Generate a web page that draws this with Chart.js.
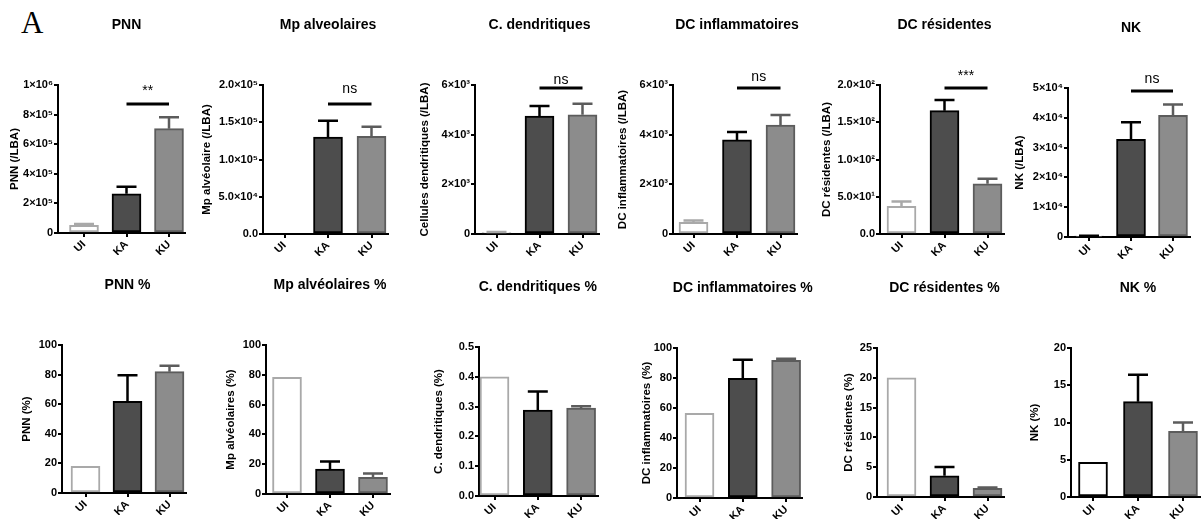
<!DOCTYPE html>
<html>
<head>
<meta charset="utf-8">
<script src="https://cdn.jsdelivr.net/npm/chart.js@4.4.0/dist/chart.umd.min.js"></script>
<style>
  html, body { margin: 0; padding: 0; background: #fff; }
  #fig { position: relative; width: 1203px; height: 519px; overflow: hidden; background: #fff; }
  #fig canvas { position: absolute; }
  #letter { position: absolute; left: 21px; top: 5px; font: 31px "Liberation Serif", "DejaVu Serif", serif; color: #000; }
</style>
</head>
<body>
<div id="fig"><div id="letter">A</div></div>
<script>
const groups = ['UI', 'KA', 'KU'];

// top row: cells per BAL (mean, sem)
const pnnAbs = [52000, 265000, 705000];
const pnnAbsSem = [9000, 47000, 77000];
const pnnAbsTicks = ['0', '2×10⁵', '4×10⁵', '6×10⁵', '8×10⁵', '1×10⁶'];

const mpAbs = [0, 130000, 131000];
const mpAbsSem = [0, 22000, 13000];
const mpAbsTicks = ['0.0', '5.0×10⁴', '1.0×10⁵', '1.5×10⁵', '2.0×10⁵'];

const dcAbs = [60, 4750, 4800];
const dcAbsSem = [20, 400, 440];
const dcAbsTicks = ['0', '2×10³', '4×10³', '6×10³'];

const dcInfAbs = [470, 3790, 4390];
const dcInfAbsSem = [70, 320, 400];
const dcInfAbsTicks = ['0', '2×10³', '4×10³', '6×10³'];

const dcResAbs = [37, 165.5, 67.5];
const dcResAbsSem = [6.5, 14.5, 6.5];
const dcResAbsTicks = ['0.0', '5.0×10¹', '1.0×10²', '1.5×10²', '2.0×10²'];

const nkAbs = [300, 32800, 40800];
const nkAbsSem = [100, 5700, 3700];
const nkAbsTicks = ['0', '1×10⁴', '2×10⁴', '3×10⁴', '4×10⁴', '5×10⁴'];

// bottom row: percentages
const pnnPct = [18, 62, 82];
const pnnPctSem = [0, 17.5, 4];
const pnnPctTicks = ['0', '20', '40', '60', '80', '100'];

const mpPct = [78.3, 16.8, 11.2];
const mpPctSem = [0, 5, 2.6];
const mpPctTicks = ['0', '20', '40', '60', '80', '100'];

const dcPct = [0.40, 0.288, 0.295];
const dcPctSem = [0, 0.063, 0.006];
const dcPctTicks = ['0.0', '0.1', '0.2', '0.3', '0.4', '0.5'];

const dcInfPct = [56.5, 79.8, 91.7];
const dcInfPctSem = [0, 12.3, 1.2];
const dcInfPctTicks = ['0', '20', '40', '60', '80', '100'];

const dcResPct = [20, 3.55, 1.45];
const dcResPctSem = [0, 1.5, 0.15];
const dcResPctTicks = ['0', '5', '10', '15', '20', '25'];

const nkPct = [4.65, 12.8, 8.8];
const nkPctSem = [0, 3.6, 1.2];
const nkPctTicks = ['0', '5', '10', '15', '20'];

const FONT = '"Liberation Sans", Arial, sans-serif';
Chart.defaults.font.family = FONT;
Chart.defaults.color = '#000';

const fills = ['#ffffff', '#4d4d4d', '#8c8c8c'];
const borders = ['#a9a9a9', '#000000', '#5c5c5c'];
const bordersNK = ['#000000', '#000000', '#5c5c5c'];

// layout of each panel: axis left/right, plot top/bottom, first bar centre, bar spacing
const panels = [
  {title: 'PNN', yTitle: 'PNN (/LBA)', values: pnnAbs, sem: pnnAbsSem, ticks: pnnAbsTicks, step: 2e5,
   sig: {text: '**', lineDy: 19, textDy: 10},
   box: {row: 0, left: 58, right: 185, top: 85, bottom: 233, first: 84, gap: 42.5, titleOff: 43}},
  {title: 'Mp alveolaires', yTitle: 'Mp alvéolaire (/LBA)', values: mpAbs, sem: mpAbsSem, ticks: mpAbsTicks, step: 5e4,
   sig: {text: 'ns', lineDy: 19, textDy: 8},
   box: {row: 0, left: 263, right: 388, top: 85, bottom: 234, first: 284.5, gap: 43.5, titleOff: 56}},
  {title: 'C. dendritiques', yTitle: 'Cellules dendritiques (/LBA)', values: dcAbs, sem: dcAbsSem, ticks: dcAbsTicks, step: 2000,
   sig: {text: 'ns', lineDy: 3, textDy: -1},
   box: {row: 0, left: 475, right: 599, top: 85, bottom: 234, first: 496.5, gap: 43, titleOff: 50}},
  {title: 'DC inflammatoires', yTitle: 'DC inflammatoires (/LBA)', values: dcInfAbs, sem: dcInfAbsSem, ticks: dcInfAbsTicks, step: 2000,
   sig: {text: 'ns', lineDy: 3, textDy: -4},
   box: {row: 0, left: 673, right: 797, top: 85, bottom: 234, first: 693.5, gap: 43.5, titleOff: 50}},
  {title: 'DC résidentes', yTitle: 'DC résidentes (/LBA)', values: dcResAbs, sem: dcResAbsSem, ticks: dcResAbsTicks, step: 50,
   sig: {text: '***', lineDy: 3, textDy: -5},
   box: {row: 0, left: 880, right: 1004, top: 85, bottom: 234, first: 901.5, gap: 43, titleOff: 53}},
  {title: 'NK', yTitle: 'NK (/LBA)', values: nkAbs, sem: nkAbsSem, ticks: nkAbsTicks, step: 1e4, nk: true,
   sig: {text: 'ns', lineDy: 3, textDy: -5},
   box: {row: 0, left: 1068, right: 1190, top: 88, bottom: 237, first: 1089, gap: 42, titleOff: 48}},

  {title: 'PNN %', yTitle: 'PNN (%)', values: pnnPct, sem: pnnPctSem, ticks: pnnPctTicks, step: 20,
   box: {row: 1, left: 62, right: 186, top: 345, bottom: 493, first: 85.5, gap: 42, titleOff: 35}},
  {title: 'Mp alvéolaires %', yTitle: 'Mp alvéolaires (%)', values: mpPct, sem: mpPctSem, ticks: mpPctTicks, step: 20,
   box: {row: 1, left: 266, right: 390, top: 345, bottom: 494, first: 287, gap: 43, titleOff: 35}},
  {title: 'C. dendritiques %', yTitle: 'C. dendritiques (%)', values: dcPct, sem: dcPctSem, ticks: dcPctTicks, step: 0.1,
   box: {row: 1, left: 479, right: 598, top: 347, bottom: 496, first: 494.5, gap: 43.3, titleOff: 40}},
  {title: 'DC inflammatoires %', yTitle: 'DC inflammatoires (%)', values: dcInfPct, sem: dcInfPctSem, ticks: dcInfPctTicks, step: 20,
   box: {row: 1, left: 677, right: 802, top: 348, bottom: 498, first: 699.5, gap: 43.3, titleOff: 30}},
  {title: 'DC résidentes %', yTitle: 'DC résidentes (%)', values: dcResPct, sem: dcResPctSem, ticks: dcResPctTicks, step: 5,
   box: {row: 1, left: 877, right: 1004, top: 348, bottom: 497, first: 901.5, gap: 43, titleOff: 28}},
  {title: 'NK %', yTitle: 'NK (%)', values: nkPct, sem: nkPctSem, ticks: nkPctTicks, step: 5, nk: true,
   box: {row: 1, left: 1071, right: 1200, top: 348, bottom: 497, first: 1093, gap: 45, titleOff: 36}}
];

const Y_W = 66;      // width reserved for y ticks + title
const X_H = 22;      // height of x axis box
const EXTRA_R = 45;  // room on the right for titles

// upward error bars (mean + sem)
const errorBars = {
  id: 'errorBars',
  afterDatasetsDraw(chart, args, opts) {
    const {ctx} = chart;
    const y = chart.scales.y;
    const meta = chart.getDatasetMeta(0);
    const ds = chart.data.datasets[0];
    meta.data.forEach((bar, i) => {
      const e = opts.sem[i];
      if (!e) return;
      const top = y.getPixelForValue(ds.data[i].y + e);
      ctx.save();
      ctx.strokeStyle = opts.colors[i];
      ctx.lineWidth = 2.5;
      ctx.beginPath();
      ctx.moveTo(bar.x, bar.y);
      ctx.lineTo(bar.x, top);
      ctx.moveTo(bar.x - 10, top);
      ctx.lineTo(bar.x + 10, top);
      ctx.stroke();
      ctx.restore();
    });
  }
};

// panel title + significance bracket
const decor = {
  id: 'decor',
  afterDraw(chart, args, o) {
    const {ctx, chartArea} = chart;
    const x = chart.scales.x;
    ctx.save();
    ctx.fillStyle = '#000';
    ctx.textAlign = 'center';
    ctx.textBaseline = 'middle';
    ctx.font = 'bold 14px ' + FONT;
    ctx.fillText(o.title, x.getPixelForValue(1), chartArea.top - 60);
    if (o.sig) {
      const x1 = x.getPixelForValue(1), x2 = x.getPixelForValue(2);
      const ly = chartArea.top + o.sig.lineDy;
      ctx.strokeStyle = '#000';
      ctx.lineWidth = 3;
      ctx.beginPath();
      ctx.moveTo(x1, ly);
      ctx.lineTo(x2, ly);
      ctx.stroke();
      ctx.textBaseline = 'alphabetic';
      ctx.font = '14px ' + FONT;
      ctx.fillText(o.sig.text, (x1 + x2) / 2, chartArea.top + o.sig.textDy);
    }
    ctx.restore();
  }
};

const fig = document.getElementById('fig');

panels.forEach(p => {
  const b = p.box;
  const rowTop = b.row ? 260 : 0;
  const rowH = b.row ? 259 : 260;
  const left = b.left - Y_W;
  const canvas = document.createElement('canvas');
  canvas.width = b.right - left + EXTRA_R;
  canvas.height = rowH;
  canvas.style.left = left + 'px';
  canvas.style.top = rowTop + 'px';
  canvas.style.width = canvas.width + 'px';
  canvas.style.height = rowH + 'px';
  fig.appendChild(canvas);

  const bc = p.nk ? bordersNK : borders;

  new Chart(canvas.getContext('2d'), {
    type: 'bar',
    data: {
      datasets: [{
        data: p.values.map((v, i) => ({x: i, y: v})),
        backgroundColor: fills,
        borderColor: bc,
        borderWidth: 2,
        borderSkipped: false,
        barThickness: 29
      }]
    },
    options: {
      responsive: false,
      animation: false,
      devicePixelRatio: 1,
      layout: {
        padding: {
          left: 0,
          right: EXTRA_R,
          top: b.top - rowTop,
          bottom: rowH - (b.bottom - rowTop) - X_H
        }
      },
      plugins: {
        legend: {display: false},
        tooltip: {enabled: false},
        errorBars: {sem: p.sem, colors: bc},
        decor: {title: p.title, sig: p.sig}
      },
      scales: {
        x: {
          type: 'linear',
          bounds: 'data',
          offset: false,
          min: -(b.first - b.left) / b.gap,
          max: (b.right - b.first) / b.gap,
          afterBuildTicks: s => { s.ticks = groups.map((g, i) => ({value: i})); },
          afterFit: s => { s.height = X_H; },
          grid: {display: true, drawOnChartArea: false, drawTicks: true, tickLength: 4, color: '#000', lineWidth: 2, offset: false},
          border: {display: true, color: '#000', width: 2},
          ticks: {
            autoSkip: false, minRotation: 45, maxRotation: 45, padding: 1,
            color: '#000', font: {size: 11, weight: 'bold'},
            callback: v => groups[v]
          }
        },
        y: {
          min: 0,
          max: (p.ticks.length - 1) * p.step,
          afterBuildTicks: s => { s.ticks = p.ticks.map((t, i) => ({value: i * p.step})); },
          afterFit: s => { s.width = Y_W; },
          grid: {display: true, drawOnChartArea: false, drawTicks: true, tickLength: 4, color: '#000', lineWidth: 2},
          border: {display: true, color: '#000', width: 2},
          ticks: {
            padding: 1, color: '#000', font: {size: 11, weight: 'bold'},
            callback: (v, i) => p.ticks[i]
          },
          title: {
            display: true, text: p.yTitle, color: '#000',
            font: {size: 11.5, weight: 'bold'},
            padding: {top: Y_W - b.titleOff - 6.9, bottom: 0}
          }
        }
      }
    },
    plugins: [errorBars, decor]
  });
});
</script>
</body>
</html>
